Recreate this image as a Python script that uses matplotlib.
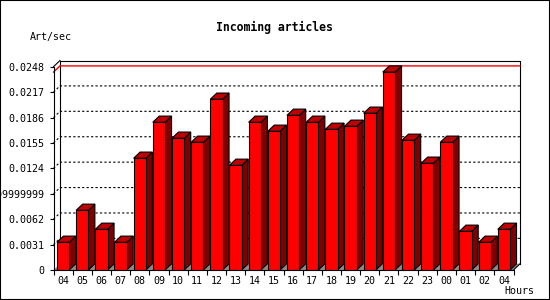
import matplotlib
matplotlib.use("Agg")
import matplotlib.pyplot as plt
from matplotlib.patches import Polygon, Rectangle

hours = ['04', '05', '06', '07', '08', '09', '10', '11', '12', '13', '14', '15',
         '16', '17', '18', '19', '20', '21', '22', '23', '00', '01', '02', '04']
rate = [0.00338, 0.00728, 0.00496, 0.00338, 0.01363, 0.01802, 0.01607, 0.01558,
        0.02083, 0.01277, 0.01802, 0.01692, 0.01887, 0.01802, 0.01716, 0.01753,
        0.01912, 0.02414, 0.01582, 0.01302, 0.01558, 0.00472, 0.00338, 0.00496]
yticks = [0, 0.0031, 0.0062, 0.0093, 0.0124, 0.0155, 0.0186, 0.0217, 0.0248]
ytick_labels = ['0', '0.0031', '0.0062', '0.009299999999999999', '0.0124', '0.0155',
                '0.0186', '0.0217', '0.0248']

W, H = 550, 300
mono = 'DejaVu Sans Mono'
fig = plt.figure(figsize=(5.5, 3), dpi=100)
fig.patch.set_facecolor('white')

# front plane of the plot (pixel layout)
x0px, x1px, y0px, y1px = 53.5, 513.5, 270, 66.7
ax = fig.add_axes([x0px / W, 1 - y0px / H, (x1px - x0px) / W, (y0px - y1px) / H])
n = len(hours)
ymax = yticks[-1]
ax.set_xlim(0, n)
ax.set_ylim(0, ymax)
ax.set_facecolor('none')

# 3d depth in data units
px_x = n / (x1px - x0px)
px_y = ymax / (y0px - y1px)
dx, dy = 6.5 * px_x, 6.2 * px_y
lw = 0.8

def poly(pts, fc, ec='black', z=1, **kw):
    p = Polygon(pts, closed=True, facecolor=fc, edgecolor=ec, linewidth=lw,
                zorder=z, clip_on=False, **kw)
    ax.add_patch(p)

# back wall
ax.add_patch(Rectangle((dx, dy), n, ymax, facecolor='white', edgecolor='none',
                       zorder=0.5, clip_on=False))
ax.plot([dx, dx, n + dx, n + dx], [dy, ymax + dy, ymax + dy, dy], color='black',
        lw=lw, zorder=0.6, clip_on=False)
ax.plot([0, dx], [ymax, ymax + dy], color='black', lw=lw, zorder=0.6, clip_on=False)
ax.plot([n, n + dx], [0, dy], color='black', lw=lw, zorder=3, clip_on=False)

# dotted grid on the back wall
for t in yticks[1:-1]:
    ax.plot([0, dx, n + dx], [t, t + dy, t + dy], color='black', lw=lw,
            linestyle=(0, (2, 2)), zorder=0.7, clip_on=False)

# max line
vmax = max(rate)
ax.plot([0, dx, n + dx], [vmax, vmax + dy, vmax + dy], color='#ff0000', lw=1.0,
        zorder=0.8, clip_on=False)

# floor
poly([(0, 0), (dx, dy), (n + dx, dy), (n, 0)], '#8c8c8c', ec='none', z=0.9)

# bars
off, bw = 0.18, 0.64
for i, v in enumerate(rate):
    a = i + off
    b = a + bw
    poly([(b, 0), (b + dx, dy), (b + dx, v + dy), (b, v)], '#800000', z=2)
    poly([(a, v), (a + dx, v + dy), (b + dx, v + dy), (b, v)], '#c00000', z=2)
ax.bar([i + off for i in range(n)], rate, width=bw, align='edge', color='#ff0000',
       edgecolor='black', linewidth=lw, zorder=2.1)

# axes
for s in ['top', 'right']:
    ax.spines[s].set_visible(False)
for s in ['left', 'bottom']:
    ax.spines[s].set_linewidth(lw)
    ax.spines[s].set_zorder(3)
ax.set_yticks(yticks)
ax.set_yticklabels(ytick_labels, fontfamily=mono, fontsize=7.2)
ax.tick_params(axis='y', length=3, width=lw, pad=3.5)
ax.set_xticks(range(n + 1))
ax.set_xticklabels([])
ax.set_xticks([i + 0.5 for i in range(n)], minor=True)
ax.set_xticklabels(hours, minor=True, fontfamily=mono, fontsize=7.2)
ax.tick_params(axis='x', which='major', length=3.6, width=lw)
ax.tick_params(axis='x', which='minor', length=0, pad=4.5)

fig.text(274 / W, 1 - 27 / H, 'Incoming articles', ha='center', va='center',
         fontfamily=mono, fontweight='bold', fontsize=8.3)
fig.text(30 / W, 1 - 37 / H, 'Art/sec', ha='left', va='center',
         fontfamily=mono, fontsize=7.2)
fig.text(504 / W, 1 - 291 / H, 'Hours', ha='left', va='center',
         fontfamily=mono, fontsize=7.2)

fig.add_artist(Rectangle((0, 0), 1, 1, transform=fig.transFigure, fill=False,
                         edgecolor='black', linewidth=1.5))

fig.savefig('out.png', dpi=100)
